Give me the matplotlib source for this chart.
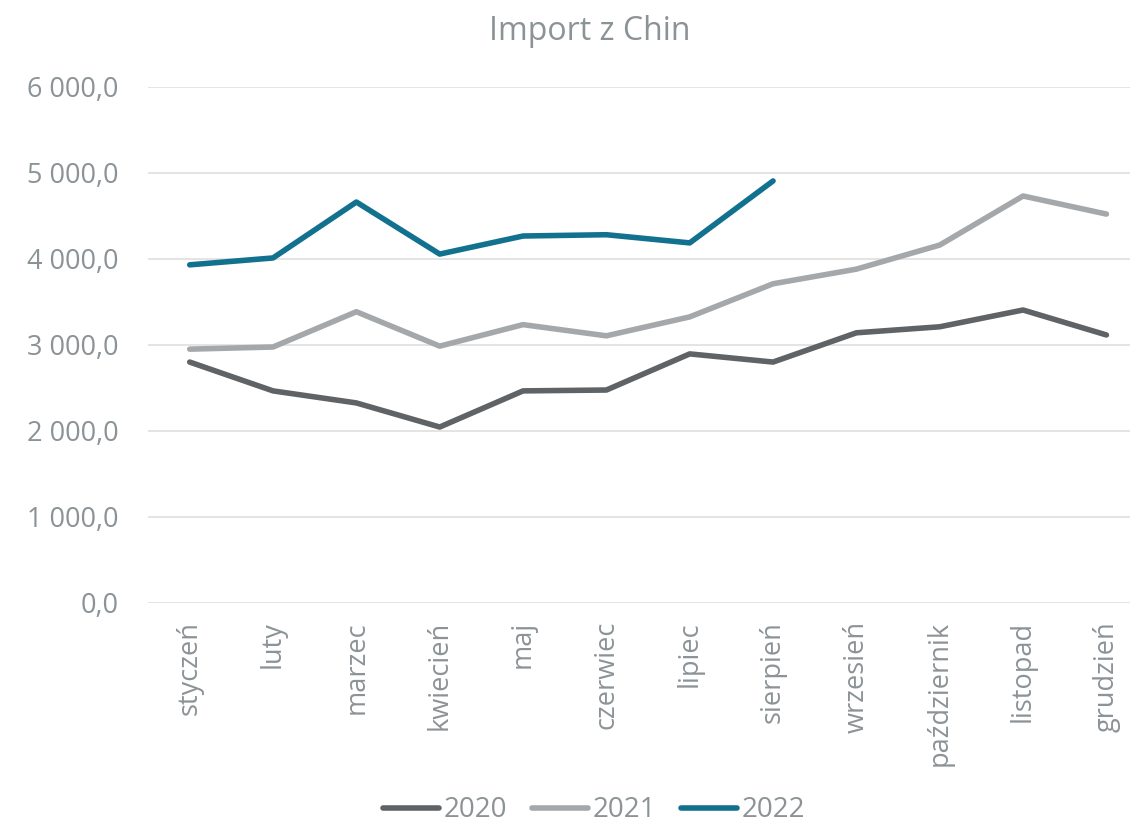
import matplotlib.pyplot as plt
from matplotlib.ticker import FuncFormatter

months = ['styczeń', 'luty', 'marzec', 'kwiecień', 'maj', 'czerwiec',
          'lipiec', 'sierpień', 'wrzesień', 'październik', 'listopad', 'grudzień']

y2020 = [2800, 2465, 2325, 2045, 2465, 2475, 2895, 2800, 3140, 3210, 3405, 3115]
y2021 = [2950, 2975, 3385, 2985, 3235, 3105, 3325, 3710, 3880, 4160, 4730, 4520]
y2022 = [3930, 4010, 4660, 4055, 4265, 4280, 4185, 4905]

text_grey = '#8c9396'
colors = {'2020': '#5f6366', '2021': '#a5a8aa', '2022': '#12718f'}

plt.rcParams['font.family'] = ['Open Sans', 'DejaVu Sans']

fig = plt.figure(figsize=(11.3, 8.26), dpi=100)
ax = fig.add_axes([0.131, 0.270, 0.885, 0.625])

x = list(range(len(months)))
style = dict(lw=4.0, solid_capstyle='round', solid_joinstyle='round')
ax.plot(x, y2020, color=colors['2020'], label='2020', **style)
ax.plot(x, y2021, color=colors['2021'], label='2021', **style)
ax.plot(x[:len(y2022)], y2022, color=colors['2022'], label='2022', **style)

ax.set_xlim(-0.5, 11.5)
ax.set_ylim(0, 6000)
ax.set_yticks(range(0, 6001, 1000))
ax.yaxis.set_major_formatter(FuncFormatter(lambda v, p: f'{v:,.1f}'.replace(',', ' ').replace('.', ',')))
ax.set_xticks(x)
ax.set_xticklabels(months, rotation=90)

ax.grid(axis='y', color='#e2e2e2', lw=1.3)
ax.set_axisbelow(True)
for s in ax.spines.values():
    s.set_visible(False)
ax.tick_params(axis='both', length=0, labelsize=19.5, labelcolor=text_grey)
ax.tick_params(axis='y', pad=21)
ax.tick_params(axis='x', pad=13)

fig.text(0.522, 0.962, 'Import z Chin', ha='center', va='center', fontsize=23, color=text_grey)

fig.legend(loc='center', bbox_to_anchor=(0.526, 0.019), ncol=3, frameon=False,
           fontsize=20, labelcolor=text_grey, handlelength=2.0, handletextpad=0.18,
           columnspacing=0.9, borderpad=0.1)

fig.savefig('out.png', dpi=100)
